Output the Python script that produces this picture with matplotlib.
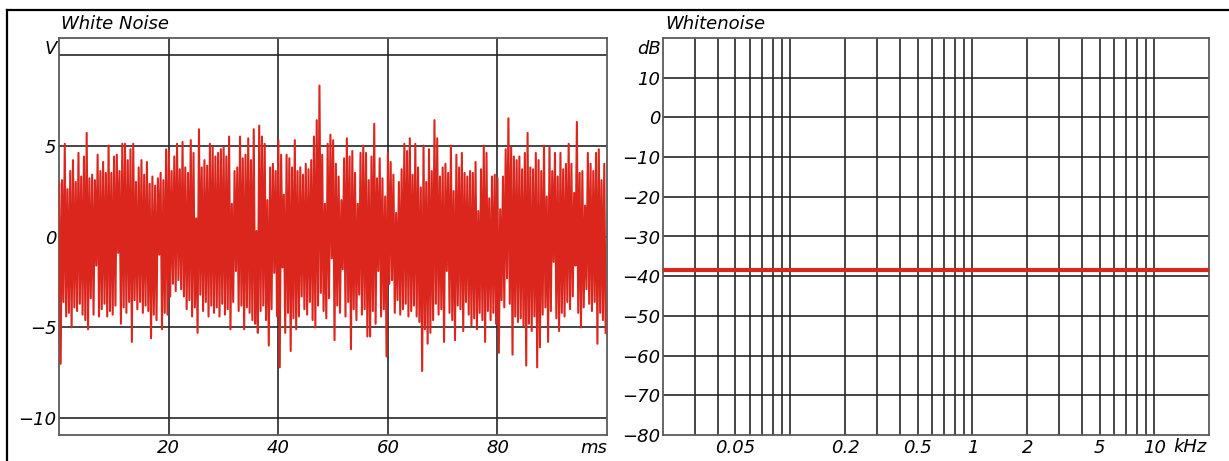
import numpy as np
import matplotlib.pyplot as plt
from matplotlib.lines import Line2D

W, H = 1229, 461
RED = "#da261d"
GRID = "#262626"
FRAME = "#5a5a5a"
FONT = dict(family="DejaVu Sans", style="oblique", size=13)

# --- left panel: white noise time signal (V), samples every 0.25 ms ---
SAMPLE_STEP_MS = 0.25
# positive excursions (t = 0, 0.5, 1.0, ... ms)
upper_v = [
    2.9, 3.1, 5.1, 2.6, 3.6, 4.2, 3.0, 4.6, 3.3, 4.4,
    5.7, 3.2, 3.4, 3.1, 4.5, 3.6, 4.1, 3.5, 5.0, 3.5,
    4.4, 4.5, 3.6, 5.1, 5.1, 4.2, 4.8, 5.1, 3.0, 3.8,
    4.2, 3.4, 4.1, 2.9, 3.3, 2.8, 3.2, 3.5, 3.1, 4.8,
    4.7, 3.6, 4.4, 5.1, 3.7, 5.2, 3.8, 3.5, 5.3, 4.6,
    1.0, 5.9, 3.8, 4.2, 3.9, 5.1, 4.9, 4.4, 4.6, 4.8,
    4.9, 4.4, 5.5, 1.8, 3.6, 3.8, 5.5, 4.3, 4.5, 5.4,
    4.2, 5.9, 0.3, 6.1, 5.5, 5.1, 2.0, 3.8, 4.0, 3.6,
    5.3, 4.5, 2.3, 4.5, 4.3, 3.8, 5.3, 3.6, 3.8, 3.4,
    4.0, 3.7, 4.2, 5.5, 6.4, 8.3, 4.5, 1.8, 5.1, 5.6,
    5.3, 4.0, 3.3, 2.0, 4.3, 5.4, 4.4, 4.7, 3.5, 1.8,
    4.6, 5.0, 4.6, 3.1, 4.4, 6.2, 3.2, 4.3, 3.2, 2.2,
    4.6, 4.1, 3.4, 1.3, 3.0, 3.7, 5.1, 4.7, 5.4, 3.4,
    5.1, 3.8, 2.7, 5.0, 3.0, 4.8, 3.6, 6.4, 5.4, 3.3,
    3.8, 4.0, 3.5, 5.0, 2.5, 4.5, 3.8, 4.6, 3.5, 3.3,
    3.6, 3.5, 4.1, 1.4, 3.7, 5.0, 4.6, 2.1, 3.3, 3.4,
    3.2, 1.5, 3.3, 4.8, 6.5, 4.9, 4.4, 4.2, 4.4, 3.7,
    4.6, 5.7, 3.8, 3.7, 4.6, 4.2, 3.6, 5.0, 2.2, 4.9,
    3.6, 4.6, 3.3, 4.6, 3.7, 4.0, 5.1, 4.0, 2.4, 6.3,
    3.5, 3.6, 1.7, 4.6, 4.0, 3.6, 4.6, 4.8, 3.1, 4.0,
]
# negative excursions (t = 0.25, 0.75, 1.25, ... ms)
lower_v = [
    -7.0, -3.6, -4.4, -4.2, -5.0, -3.9, -4.1, -3.7, -4.3, -4.6,
    -5.1, -3.4, -4.3, -1.6, -4.4, -4.0, -3.7, -4.4, -4.1, -4.3,
    -3.8, -0.9, -4.8, -3.9, -4.2, -3.6, -5.8, -3.5, -4.0, -3.6,
    -4.2, -3.8, -4.1, -5.6, -4.3, -4.6, -1.0, -5.1, -4.2, -4.3,
    -3.3, -2.6, -3.0, -2.4, -2.9, -3.3, -4.0, -3.5, -4.4, -3.9,
    -5.3, -3.2, -4.1, -3.6, -4.4, -3.8, -4.2, -3.9, -4.4, -3.7,
    -4.3, -4.0, -5.1, -3.6, -1.9, -4.1, -3.8, -5.1, -3.9, -4.2,
    -4.6, -4.8, -5.3, -4.1, -3.8, -4.6, -6.0, -4.0, -2.0, -4.4,
    -7.2, -1.7, -5.3, -4.2, -6.3, -4.5, -5.1, -4.4, -3.3, -4.0,
    -4.3, -3.6, -4.6, -5.0, -3.8, -3.1, -4.1, -4.5, -3.4, -1.2,
    -5.7, -3.8, -4.2, -1.8, -4.4, -3.6, -6.2, -4.0, -4.6, -3.2,
    -4.3, -4.0, -5.5, -5.5, -4.1, -4.8, -1.9, -4.4, -4.0, -6.6,
    -2.6, -2.4, -4.2, -3.5, -4.3, -4.0, -3.7, -4.4, -4.1, -3.8,
    -4.4, -4.7, -7.4, -5.1, -5.9, -5.3, -4.6, -3.7, -4.3, -4.0,
    -5.8, -1.9, -4.2, -4.6, -5.7, -3.8, -4.0, -5.2, -3.6, -4.3,
    -4.9, -4.5, -5.1, -4.2, -4.6, -5.8, -4.1, -4.6, -4.2, -4.8,
    -6.4, -3.5, -3.9, -2.3, -3.7, -6.5, -4.4, -4.7, -4.5, -4.9,
    -7.1, -4.8, -5.2, -4.4, -7.2, -6.1, -4.3, -3.9, -5.8, -4.1,
    -1.4, -4.5, -5.2, -4.2, -4.4, -3.6, -4.0, -3.3, -1.6, -4.2,
    -5.0, -3.9, -2.9, -3.7, -4.1, -3.6, -5.9, -4.2, -4.6, -5.3,
]
time_ticks = [20, 40, 60, 80]
volt_ticks = [-10, -5, 0, 5]
volt_grid = [-10, -5, 0, 5, 10]

# --- right panel: spectrum (dB over kHz) ---
spectrum_khz = [0.02, 20]
spectrum_db = [-38.5, -38.5]
freq_labels = [0.05, 0.2, 0.5, 1, 2, 5, 10]
freq_grid = [0.03, 0.04, 0.05, 0.06, 0.07, 0.08, 0.09, 0.1,
             0.2, 0.3, 0.4, 0.5, 0.6, 0.7, 0.8, 0.9, 1,
             2, 3, 4, 5, 6, 7, 8, 9, 10]
db_ticks = [-80, -70, -60, -50, -40, -30, -20, -10, 0, 10]


def fmt(v):
    s = f"{v:g}"
    return s.replace("-", "\u2212")


def style_axes(ax):
    for sp in ax.spines.values():
        sp.set_color(FRAME)
        sp.set_linewidth(1.3)
    ax.tick_params(length=0, labelsize=13)
    ax.tick_params(axis="x", pad=3)
    ax.tick_params(axis="y", pad=2)
    for lab in ax.get_xticklabels() + ax.get_yticklabels():
        lab.set_fontstyle("oblique")


fig = plt.figure(figsize=(W / 100, H / 100), dpi=100)

# outer frame (left and top edges only)
fig.add_artist(Line2D([7 / W, 7 / W], [0, 1 - 10 / H], color="black", lw=1.6))
fig.add_artist(Line2D([7 / W, 1], [1 - 10 / H, 1 - 10 / H], color="black", lw=1.6))

# left panel
ax1 = fig.add_axes([59.3 / W, 1 - 435 / H, (607 - 59.3) / W, 397 / H])
signal = np.empty(len(upper_v) + len(lower_v))
signal[0::2] = upper_v
signal[1::2] = lower_v
t = np.arange(len(signal)) * SAMPLE_STEP_MS
ax1.plot(t, signal, color=RED, lw=1.5, zorder=3)
for v in volt_grid:
    ax1.axhline(v, color=GRID, lw=1.2, zorder=1)
for x in time_ticks:
    ax1.axvline(x, color=GRID, lw=1.2, zorder=1)
ax1.set_xlim(0, 100)
ax1.set_ylim(-10.92, 10.92)
ax1.set_xticks(time_ticks + [100])
ax1.set_xticklabels([fmt(x) for x in time_ticks] + ["ms"])
ax1.set_yticks(volt_ticks)
ax1.set_yticklabels([fmt(v) for v in volt_ticks])
style_axes(ax1)
ax1.get_xticklabels()[-1].set_horizontalalignment("right")
ax1.text(-0.004, 0.995, "V", transform=ax1.transAxes, ha="right", va="top", **FONT)
fig.text(61 / W, 1 - 29 / H, "White Noise", ha="left", va="baseline", **FONT)

# right panel
ax2 = fig.add_axes([663 / W, 1 - 435 / H, (1209.3 - 663) / W, 397 / H])
ax2.set_xscale("log")
ax2.plot(spectrum_khz, spectrum_db, color=RED, lw=3.0, zorder=3, solid_capstyle="butt")
for v in db_ticks[1:]:
    ax2.axhline(v, color=GRID, lw=1.2, zorder=1)
for f in freq_grid:
    ax2.axvline(f, color=GRID, lw=1.2, zorder=1)
ax2.set_xlim(0.02, 20)
ax2.set_ylim(-80, 20)
ax2.xaxis.set_minor_locator(plt.NullLocator())
ax2.set_xticks(freq_labels)
ax2.set_xticklabels([fmt(f) for f in freq_labels])
ax2.set_yticks(db_ticks)
ax2.set_yticklabels([fmt(v) for v in db_ticks])
style_axes(ax2)
ax2.text(-0.004, 0.995, "dB", transform=ax2.transAxes, ha="right", va="top", **FONT)
fig.text(1207 / W, 1 - 452 / H, "kHz", ha="right", va="baseline", **FONT)
fig.text(665 / W, 1 - 29 / H, "Whitenoise", ha="left", va="baseline", **FONT)

fig.savefig("out.png", dpi=100)
